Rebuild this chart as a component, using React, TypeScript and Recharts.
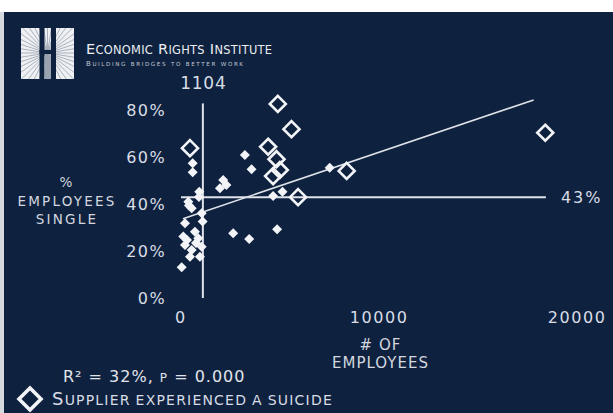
import { ScatterChart, Scatter, XAxis, YAxis, ReferenceLine } from 'recharts';

const NAVY = '#0e2240';
const INK = '#d9dde5';
const WHITE = '#f3f4f7';
const FONT = '"DejaVu Sans", sans-serif';

// suppliers without a suicide (small filled diamonds)
const otherEmployees = [
  589, 589, 2131, 1965, 2292, 922, 907, 368, 539, 1043, 202, 1093, 2635, 116, 705, 872,
  202, 539, 1043, 453, 957, 35, 3224, 3562, 4650, 5123, 3441, 4851, 7506, 302, 756, 400,
];
const otherSingle = [
  57.5, 53.6, 50.3, 46.8, 48.2, 45.3, 43.1, 41.1, 38.3, 36.1, 31.9, 32.6, 27.6, 26.2, 28.3, 25.5,
  22.6, 20.5, 21.9, 17.6, 17.6, 13.1, 61.0, 54.9, 43.5, 45.3, 25.2, 29.3, 55.6, 24.7, 23.5, 39.5,
];

// suppliers that experienced a suicide (open diamonds)
const suicideEmployees = [453, 4887, 5577, 4398, 4821, 4987, 4650, 5909, 8363, 18388];
const suicideSingle = [63.9, 82.8, 72.0, 64.5, 59.2, 54.6, 52.0, 43.0, 54.2, 70.5];

const xTicks = [0, 10000, 20000];
const yTicks = [0, 20, 40, 60, 80];

const medianEmployees = 1104;
const meanSingle = 43;
const trendFrom = { x: 100, y: 33.8 };
const trendTo = { x: 17800, y: 84.5 };

const otherData = otherEmployees.map((x, i) => ({ x, y: otherSingle[i] }));
const suicideData = suicideEmployees.map((x, i) => ({ x, y: suicideSingle[i] }));

function FilledDiamond(props: any) {
  const { cx, cy } = props;
  if (cx == null || cy == null) return null;
  const r = 5;
  return <path d={`M ${cx} ${cy - r} L ${cx + r} ${cy} L ${cx} ${cy + r} L ${cx - r} ${cy} Z`} fill={WHITE} />;
}

function OpenDiamond(props: any) {
  const { cx, cy } = props;
  if (cx == null || cy == null) return null;
  const r = 8;
  return (
    <path
      d={`M ${cx} ${cy - r} L ${cx + r} ${cy} L ${cx} ${cy + r} L ${cx - r} ${cy} Z`}
      fill="none"
      stroke={WHITE}
      strokeWidth={2.6}
    />
  );
}

// uppercase letters big, lowercase letters drawn as small capitals
function SmallCaps({ text, big, small }: { text: string; big: number; small: number }) {
  const runs: { small: boolean; s: string }[] = [];
  for (const ch of text) {
    const isSmall = ch !== ch.toUpperCase();
    const last = runs[runs.length - 1];
    if (last && last.small === isSmall) last.s += ch;
    else runs.push({ small: isSmall, s: ch });
  }
  return (
    <>
      {runs.map((r, i) => (
        <tspan key={i} fontSize={r.small ? small : big}>
          {r.small ? r.s.toUpperCase() : r.s}
        </tspan>
      ))}
    </>
  );
}

function Logo() {
  const cx = 47.5;
  const cy = 53;
  const rays = [];
  for (let i = 0; i < 40; i++) {
    const a = (i / 40) * Math.PI * 2;
    rays.push(
      <line key={i} x1={cx} y1={cy} x2={cx + Math.cos(a) * 40} y2={cy + Math.sin(a) * 40} stroke="#8e96a4" strokeWidth={0.7} />
    );
  }
  return (
    <g>
      <defs>
        <clipPath id="logoClip">
          <rect x={21} y={28} width={53} height={51} />
        </clipPath>
      </defs>
      <rect x={21} y={28} width={53} height={51} fill="#eef0f4" />
      <g clipPath="url(#logoClip)">{rays}</g>
      <rect x={39.5} y={28} width={5} height={51} fill={NAVY} />
      <rect x={51} y={28} width={5} height={51} fill={NAVY} />
      <rect x={39.5} y={50} width={16.5} height={4} fill={NAVY} />
      <rect x={44.5} y={56} width={6.5} height={23} fill="#9aa2af" />
    </g>
  );
}

function MedianLabel(props: any) {
  const { viewBox } = props;
  return (
    <text x={viewBox.x + 0.5} y={viewBox.y - 14.5} textAnchor="middle" fill={INK} fontSize={17} fontFamily={FONT} letterSpacing={0.8}>
      {medianEmployees}
    </text>
  );
}

function MeanLabel(props: any) {
  const { viewBox } = props;
  return (
    <text x={viewBox.x + viewBox.width + 15} y={viewBox.y + 6} fill={INK} fontSize={16} fontFamily={FONT} letterSpacing={2}>
      {`${meanSingle}%`}
    </text>
  );
}

export default function App() {
  const tickStyle = { fill: INK, fontSize: 16, fontFamily: FONT, letterSpacing: 1.4 };
  return (
    <div style={{ position: 'fixed', left: 0, top: 0, width: 613, height: 413, background: '#ffffff', overflow: 'hidden' }}>
      <div style={{ position: 'absolute', left: 0, top: 12, width: 4, bottom: 0, background: '#d6d9de' }} />
      <div style={{ position: 'absolute', left: 4, top: 12, right: 0, bottom: 0, background: NAVY }} />
      <div style={{ position: 'absolute', left: 0, top: 0 }}>
        <ScatterChart width={613} height={413} margin={{ top: 87, right: 16, bottom: 85, left: 121 }}>
          <XAxis
            type="number"
            dataKey="x"
            domain={[0, 21000]}
            ticks={xTicks}
            interval={0}
            axisLine={false}
            tickLine={false}
            tickSize={0}
            tickMargin={14}
            height={30}
            tick={{ ...tickStyle, letterSpacing: 1.6 }}
          />
          <YAxis
            type="number"
            dataKey="y"
            domain={[0, 90]}
            ticks={yTicks}
            interval={0}
            width={60}
            axisLine={false}
            tickLine={false}
            tickSize={0}
            tickMargin={15}
            tickFormatter={(v) => `${v}%`}
            tick={tickStyle}
          />
          <ReferenceLine
            segment={[{ x: medianEmployees, y: 0 }, { x: medianEmployees, y: 83 }]}
            stroke="#dfe2e8"
            strokeWidth={2}
            label={<MedianLabel />}
          />
          <ReferenceLine
            segment={[{ x: 0, y: meanSingle }, { x: 18420, y: meanSingle }]}
            stroke="#dfe2e8"
            strokeWidth={2}
            label={<MeanLabel />}
          />
          <ReferenceLine
            segment={[trendFrom, trendTo]}
            stroke="#dfe2e8"
            strokeWidth={1.6}
          />
          <Scatter data={otherData} shape={<FilledDiamond />} isAnimationActive={false} />
          <Scatter data={suicideData} shape={<OpenDiamond />} isAnimationActive={false} />
        </ScatterChart>
      </div>
      <svg width={613} height={413} style={{ position: 'absolute', left: 0, top: 0, pointerEvents: 'none' }} fontFamily={FONT}>
        <Logo />
        <text x={86} y={53.5} fill="#eceef2" letterSpacing={0.3}>
          <SmallCaps text="Economic Rights Institute" big={14.5} small={11.4} />
        </text>
        <text x={86} y={65.5} fill="#c3c8d2" letterSpacing={1.6}>
          <SmallCaps text="Building bridges to better work" big={7} small={5.6} />
        </text>

        <g fill="#d3d7df" fontSize={13.5} letterSpacing={2.2} textAnchor="middle">
          <text x={67} y={186.5}>%</text>
          <text x={67} y={206}>EMPLOYEES</text>
          <text x={67} y={224}>SINGLE</text>
        </g>

        <g fill="#d3d7df" fontSize={15} letterSpacing={1} textAnchor="middle">
          <text x={380.5} y={349.5}>{'# OF'}</text>
          <text x={380.5} y={368}>EMPLOYEES</text>
        </g>

        <text x={63} y={381.5} fill="#e2e5eb" letterSpacing={1}>
          <SmallCaps text="R² = 32%, p = 0.000" big={16} small={12} />
        </text>

        <path d="M 30 388 L 41 399 L 30 410 L 19 399 Z" fill="none" stroke={WHITE} strokeWidth={3.6} />
        <text x={52} y={405} fill="#d8dce4" letterSpacing={1.2} wordSpacing={-2}>
          <SmallCaps text="Supplier experienced a suicide" big={18} small={14} />
        </text>
      </svg>
    </div>
  );
}
